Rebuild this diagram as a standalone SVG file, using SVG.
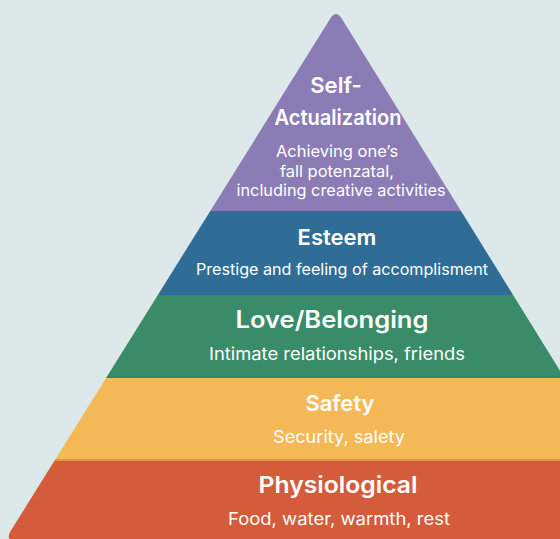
<svg xmlns="http://www.w3.org/2000/svg" width="560" height="539" viewBox="0 0 560 539">
  <defs>
    <!-- pyramid outline with a softened apex and base corner -->
    <clipPath id="pyramid">
      <path d="M330 19 Q336 9 342 19 L665 540 L14 540 Q6 540 10 532 Z"/>
    </clipPath>
    <style>
      .title { font-family: "Inter", "Open Sans", "Liberation Sans", sans-serif; font-weight: 600; fill: #ffffff; text-anchor: middle; }
      .sub { font-family: "Inter", "Open Sans", "Liberation Sans", sans-serif; font-weight: 400; fill: #ffffff; text-anchor: middle; }
    </style>
  </defs>

  <rect width="560" height="539" fill="#dde8eb"/>

  <g clip-path="url(#pyramid)">
    <g id="self-actualization">
      <rect x="0" y="0" width="700" height="211" fill="#8c7cb5"/>
      <text class="title" x="336" y="93" font-size="22">Self-</text>
      <text class="title" x="338" y="125" font-size="21.5" textLength="127" lengthAdjust="spacingAndGlyphs">Actualization</text>
      <text class="sub" x="337" y="157" font-size="16.5">Achieving one’s</text>
      <text class="sub" x="337" y="177" font-size="16.5">fall potenzatal,</text>
      <text class="sub" x="341" y="196" font-size="16.5" textLength="209" lengthAdjust="spacingAndGlyphs">including creative activities</text>
    </g>
    <g id="esteem">
      <rect x="0" y="211" width="700" height="84" fill="#2f6d97"/>
      <text class="title" x="337" y="245" font-size="22">Esteem</text>
      <text class="sub" x="342" y="275" font-size="16" textLength="292" lengthAdjust="spacingAndGlyphs">Prestige and feeling of accomplisment</text>
    </g>
    <g id="love-belonging">
      <rect x="0" y="295" width="700" height="82" fill="#3a8c68"/>
      <text class="title" x="332" y="328" font-size="24" textLength="193" lengthAdjust="spacingAndGlyphs">Love/Belonging</text>
      <text class="sub" x="337" y="360" font-size="17" textLength="256" lengthAdjust="spacingAndGlyphs">Intimate relationships, friends</text>
    </g>
    <g id="safety">
      <rect x="0" y="377" width="700" height="83" fill="#f4b956"/>
      <rect x="0" y="376" width="700" height="2" fill="#2f8a64"/>
      <text class="title" x="340" y="411" font-size="22">Safety</text>
      <text class="sub" x="339" y="443" font-size="17" fill="#fff3df" textLength="132" lengthAdjust="spacingAndGlyphs">Security, salety</text>
    </g>
    <g id="physiological">
      <rect x="0" y="460" width="700" height="80" fill="#d45c3a"/>
      <rect x="0" y="459" width="700" height="2" fill="#eb8f42"/>
      <text class="title" x="338" y="493" font-size="23" textLength="159" lengthAdjust="spacingAndGlyphs">Physiological</text>
      <text class="sub" x="339" y="525" font-size="17" textLength="222" lengthAdjust="spacingAndGlyphs">Food, water, warmth, rest</text>
    </g>
  </g>
</svg>
